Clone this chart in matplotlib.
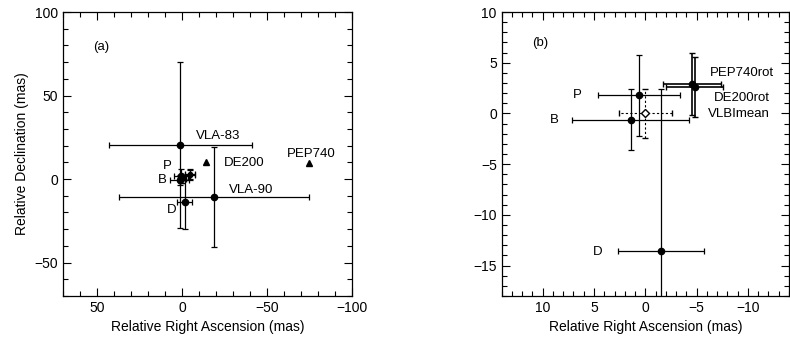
import matplotlib
matplotlib.use("Agg")
import matplotlib.pyplot as plt
from matplotlib.ticker import MultipleLocator

plt.rcParams['font.family'] = ['Liberation Sans', 'DejaVu Sans']

# estimates near the origin (mas): x = relative RA, y = relative Dec
names = ['P', 'B', 'D']
ra = [0.65, 1.4, -1.5]
dec = [1.8, -0.6, -13.6]
ra_err = [4.0, 5.7, 4.2]
dec_err = [4.0, 3.0, 16.0]

vlbi_ra, vlbi_dec = 0.0, 0.0
vlbi_ra_err, vlbi_dec_err = 2.6, 2.4

rot_names = ['PEP740rot', 'DE200rot']
rot_ra = [-4.55, -4.8]
rot_dec = [2.9, 2.6]
rot_ra_err = [2.85, 2.75]
rot_dec_err = [3.05, 3.0]

vla_names = ['VLA-83', 'VLA-90']
vla_ra = [1.0, -18.7]
vla_dec = [20.5, -10.8]
vla_ra_err = [42.0, 56.0]
vla_dec_err = [49.5, 30.0]

eph_names = ['DE200', 'PEP740']
eph_ra = [-14.3, -75.0]
eph_dec = [10.0, 9.5]

fig = plt.figure(figsize=(7.9, 3.43), dpi=100)
ax1 = fig.add_axes([0.0797, 0.137, 0.3658, 0.828])
ax2 = fig.add_axes([0.635, 0.137, 0.3637, 0.828])

eb = dict(fmt='o', color='black', ms=4.5, elinewidth=0.9, capsize=2.5, capthick=0.9)

# panel (a)
ax1.errorbar(vla_ra, vla_dec, xerr=vla_ra_err, yerr=vla_dec_err, **eb)
ax1.errorbar(ra, dec, xerr=ra_err, yerr=dec_err, **eb)
ax1.errorbar(rot_ra, rot_dec, xerr=rot_ra_err, yerr=rot_dec_err, fmt='o', color='black',
             ms=3, elinewidth=0.9, capsize=2, capthick=0.9)
ax1.errorbar(vlbi_ra, vlbi_dec, xerr=vlbi_ra_err, yerr=vlbi_dec_err, fmt='o', color='black',
             ms=3, elinewidth=0.8, capsize=2)
ax1.plot(eph_ra, eph_dec, '^', color='black', ms=4.5)

ax1.text(52.5, 79, '(a)', fontsize=9.5, va='center')
ax1.text(-8.3, 25.6, 'VLA-83', fontsize=9.5, va='center')
ax1.text(-27.8, -6.5, 'VLA-90', fontsize=9.5, va='center')
ax1.text(-24.8, 9.5, 'DE200', fontsize=9.5, va='center')
ax1.text(-62, 15.3, 'PEP740', fontsize=9.5, va='center')
ax1.text(11, 7.9, 'P', fontsize=9.5, va='center')
ax1.text(14, -0.6, 'B', fontsize=9.5, va='center')
ax1.text(9, -18.3, 'D', fontsize=9.5, va='center')

ax1.set_xlim(70, -100)
ax1.set_ylim(-70, 100)
ax1.xaxis.set_major_locator(MultipleLocator(50))
ax1.yaxis.set_major_locator(MultipleLocator(50))
ax1.xaxis.set_minor_locator(MultipleLocator(10))
ax1.yaxis.set_minor_locator(MultipleLocator(10))
ax1.set_xlabel('Relative Right Ascension (mas)', fontsize=10)
ax1.set_ylabel('Relative Declination (mas)', fontsize=10)

# panel (b)
ax2.errorbar(ra, dec, xerr=ra_err, yerr=dec_err, **eb)
ax2.errorbar(rot_ra, rot_dec, xerr=rot_ra_err, yerr=rot_dec_err, fmt='o', color='black',
             ms=4.5, elinewidth=1.2, capsize=2.5, capthick=1.0)
vl = ax2.errorbar(vlbi_ra, vlbi_dec, xerr=vlbi_ra_err, yerr=vlbi_dec_err, fmt='D', mfc='white',
                  mec='black', ecolor='black', ms=4, elinewidth=0.8, capsize=2.5)
for lc in vl[2]:
    lc.set_linestyle((0, (2, 2)))

ax2.text(11.0, 6.9, '(b)', fontsize=9.5, va='center')
for n, x, y in zip(names, [7.05, 9.3, 5.1], [1.8, -0.6, -13.7]):
    ax2.text(x, y, n, fontsize=9.5, va='center')
ax2.text(-6.3, 4.0, 'PEP740rot', fontsize=9.5, va='center')
ax2.text(-6.65, 1.55, 'DE200rot', fontsize=9.5, va='center')
ax2.text(-6.15, -0.1, 'VLBImean', fontsize=9.5, va='center')

ax2.set_xlim(14, -14)
ax2.set_ylim(-18, 10)
ax2.xaxis.set_major_locator(MultipleLocator(5))
ax2.yaxis.set_major_locator(MultipleLocator(5))
ax2.xaxis.set_minor_locator(MultipleLocator(1))
ax2.yaxis.set_minor_locator(MultipleLocator(1))
ax2.set_xlabel('Relative Right Ascension (mas)', fontsize=10)

for ax in (ax1, ax2):
    ax.tick_params(which='both', direction='in', top=True, right=True, labelsize=10, width=0.8)
    ax.tick_params(which='major', length=6)
    ax.tick_params(which='minor', length=3.5)
    for s in ax.spines.values():
        s.set_linewidth(0.9)

fig.savefig('out.png', dpi=100)
